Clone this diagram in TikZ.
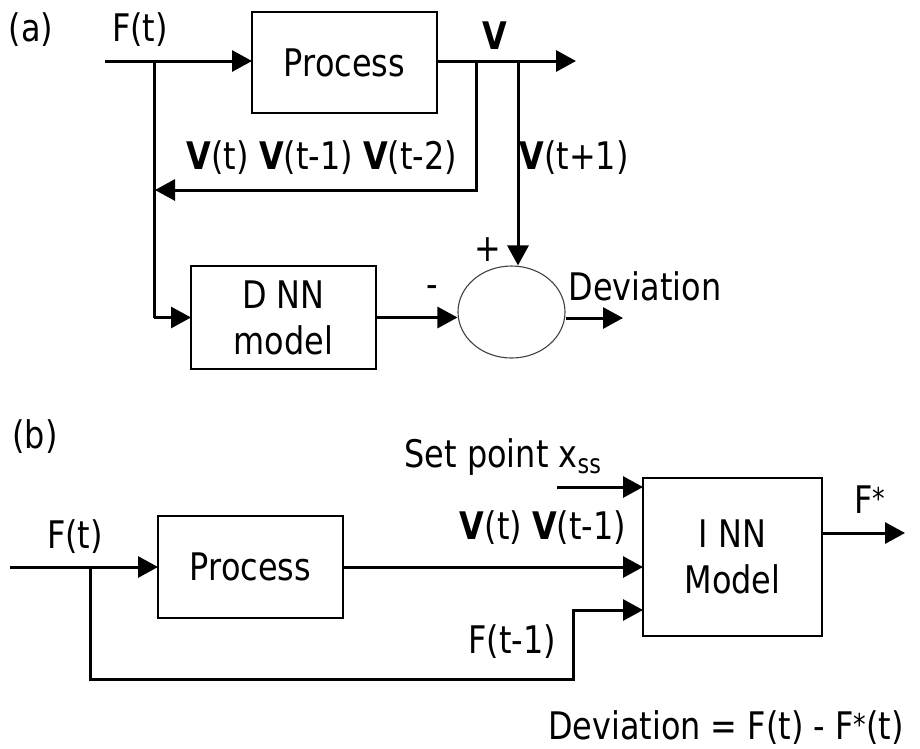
\documentclass[tikz,border=0pt]{standalone}
\usepackage{fontspec}
\setmainfont{DejaVu Sans}[FakeStretch=0.84]
\usetikzlibrary{arrows.meta,shapes.geometric}
\newcommand{\astsup}{\raisebox{0.12em}{\fontsize{30}{30}\selectfont *}}
\begin{document}
\begin{tikzpicture}[x=1pt,y=-1pt,
  font=\fontsize{38}{44}\selectfont,
  wire/.style={line width=3pt,-{Triangle[length=20pt,width=21pt]}},
  blk/.style={draw,line width=1.6pt,inner sep=0pt,outer sep=0pt,align=center,
    font=\fontsize{38}{46}\selectfont},
  lbl/.style={inner sep=0pt}]
\useasboundingbox (0,0) rectangle (920,748);
% ---------- (a) ----------
\node[blk,minimum width=185pt,minimum height=101pt] (proca) at (344.5,62.5) {Process};
\node[blk,minimum width=185pt,minimum height=103pt] (dnn) at (283.5,317.5) {D NN\\model};
\node[draw,ellipse,line width=1.1pt,draw=black!75,minimum width=107pt,minimum height=92pt,inner sep=0pt] (sum) at (511.5,312) {};
\coordinate (ina) at (105,61);
\coordinate (ja) at (154,61);
\coordinate (fb) at (476,61);
\coordinate (vb) at (518,61);
\coordinate (outa) at (576,61);
\coordinate (fbend) at (155,190);
\coordinate (deva) at (623,318);
\draw[wire] (ina) -- (ina -| proca.west);
\draw[line width=3pt] (ja) -- (ja |- dnn.west);
\draw[wire] (ja |- dnn.west) -- (dnn.west);
\draw[wire] (proca.east |- ina) -- (outa);
\draw[wire] (fb) |- (fbend);
\draw[wire] (vb) -- (vb |- sum.north);
\draw[wire] (dnn.east) -- (dnn.east -| sum.west);
\draw[wire] (sum.east |- deva) -- (deva);
\node[lbl] (la) at (31,30) {(a)};
\node[lbl] (fta) at (140,30) {F(t)};
\node[lbl] (va) at (495,36) {\textbf{V}};
\node[lbl] (vhist) at (322,158) {\textbf{V}(t) \textbf{V}(t-1) \textbf{V}(t-2)};
\node[lbl] (vnext) at (574,158) {\textbf{V}(t+1)};
\node[lbl] (plus) at (488,250) {+};
\node[lbl] (minus) at (432,292) {-};
\node[lbl] (deval) at (645,286) {Deviation};
% ---------- (b) ----------
\node[blk,minimum width=185pt,minimum height=102pt] (procb) at (250.5,567) {Process};
\node[blk,minimum width=179pt,minimum height=158pt] (inn) at (732.5,557) {I NN\\Model};
\coordinate (inb) at (10,567);
\coordinate (jb) at (90,567);
\coordinate (c1) at (573,679);
\coordinate (c2) at (643,610);
\coordinate (sp) at (557,487);
\coordinate (outb) at (905,533);
\draw[wire] (inb) -- (procb.west);
\draw[wire] (jb) |- (c1) |- (c2);
\draw[wire] (procb.east) -- (procb.east -| inn.west);
\draw[wire] (sp) -- (sp -| inn.west);
\draw[wire] (inn.east |- outb) -- (outb);
\node[lbl] (lb) at (35,437) {(b)};
\node[lbl] (ftb) at (75,537) {F(t)};
\node[lbl] (vb2) at (543,528) {\textbf{V}(t) \textbf{V}(t-1)};
\node[lbl] (setp) at (503,457) {Set point x\textsubscript{ss}};
\node[lbl] (ftm) at (512,642) {F(t-1)};
\node[lbl] (fstar) at (870,500) {F\astsup};
\node[lbl] (deveq) at (726,728) {Deviation = F(t) - F\astsup(t)};
\end{tikzpicture}
\end{document}
